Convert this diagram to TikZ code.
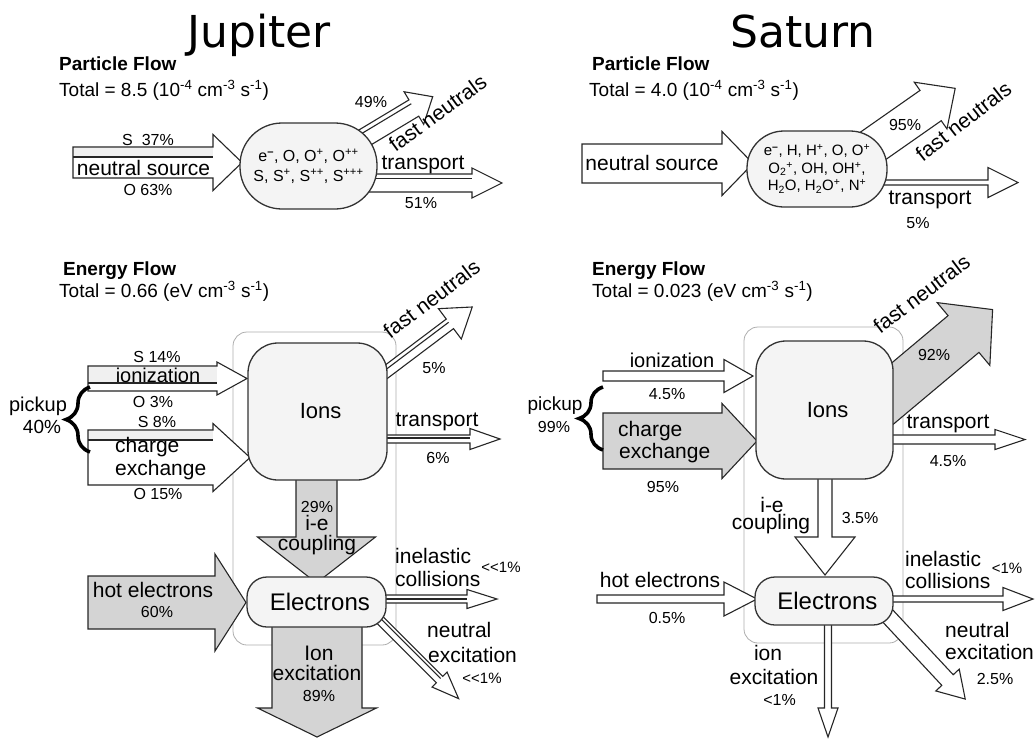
\documentclass[tikz,border=0pt]{standalone}
\usepackage{fontspec}
\setmainfont{Liberation Sans}
\newfontfamily\titlefont{DejaVu Sans}
\usetikzlibrary{decorations.pathreplacing}
\definecolor{flowgray}{gray}{0.83}
\definecolor{nodegray}{gray}{0.955}
\definecolor{bandgray}{gray}{0.94}
\definecolor{boxgray}{gray}{0.68}

% block arrow: [style]{start}{angle}{shaft length}{shaft half width}{head half width}{head length}
\newcommand{\flowarrow}[7][]{%
  \draw[flow,#1,shift={#2},rotate=#3] (0,-#5) -- (#4,-#5) -- (#4,-#6) -- ({#4+#7},0) -- (#4,#6) -- (#4,#5) -- (0,#5) -- cycle;}
% line along a block arrow: {start}{angle}{length}{offset}
\newcommand{\flowline}[4]{%
  \draw[flowedge,shift={#1},rotate=#2] (0,#4) -- (#3,#4);}

\begin{document}
\begin{tikzpicture}[x=1pt,y=-1pt]
\tikzstyle{flow}=[draw=black!85, line width=1.1pt, fill=white, line join=miter]
\tikzstyle{flowedge}=[draw=black!85, line width=1.1pt]
\tikzstyle{hot}=[fill=flowgray]
\tikzstyle{pool}=[draw=black!80, line width=1.3pt, fill=nodegray, inner sep=0pt, align=center]
\tikzstyle{lab}=[inner sep=0pt, anchor=base, font=\fontsize{21}{23}\selectfont]
\tikzstyle{labl}=[lab, anchor=base west]
\tikzstyle{pct}=[inner sep=0pt, anchor=base, font=\fontsize{16}{18}\selectfont]
\tikzstyle{small}=[inner sep=0pt, anchor=base, font=\fontsize{15}{17}\selectfont]
\tikzstyle{heading}=[inner sep=0pt, anchor=base west, font=\fontsize{19}{21}\selectfont\bfseries]
\tikzstyle{total}=[inner sep=0pt, anchor=base west, font=\fontsize{19}{21}\selectfont]
\tikzstyle{planet}=[inner sep=0pt, anchor=base, font=\titlefont\fontsize{44}{48}\selectfont]
\tikzstyle{pickbrace}=[decorate, decoration={brace, amplitude=24pt}, line width=3.6pt]
\useasboundingbox (0,0) rectangle (1035,739);

\node (jtitle) [planet] at (259,47) {Jupiter};
\node (stitle) [planet] at (803,47) {Saturn};

% Jupiter, particle flow
\flowarrow{(73,162.5)}{0}{140}{15.5}{28}{29}
\fill[bandgray] (73.6,147.6) rectangle (212.5,157);
\draw[flowedge] (73,157) -- (213,157);
\flowarrow{(360,183)}{0}{112}{9}{15}{30}
\flowline{(360,183)}{0}{112}{-4.5}
\flowarrow{(359,141)}{31}{64}{9.5}{19}{22}
\flowline{(359,141)}{31}{64}{-5}
\node (jpart) [pool, rounded corners=42pt, minimum width=137pt, minimum height=86pt,
  font=\fontsize{16}{20}\selectfont] at (308.5,166)
  {e\textsuperscript{\textbf{–}}, O, O\textsuperscript{+}, O\textsuperscript{++}\\
   S, S\textsuperscript{+}, S\textsuperscript{++}, S\textsuperscript{+++}};
\node (jpflow) [heading] at (59,70) {Particle Flow};
\node (jptotal) [total] at (59,96) {Total = 8.5 (10\textsuperscript{-4} cm\textsuperscript{-3} s\textsuperscript{-1})};
\node (jps) [pct] at (148,145) {S~~37\%};
\node (jpsrc) [lab] at (143.5,175) {neutral source};
\node (jpo) [pct] at (148,195) {O 63\%};
\node (jp49) [pct] at (371,107) {49\%};
\node (jpfast) [lab, rotate=36] at (442,119) {fast neutrals};
\node (jptrans) [lab] at (423,169) {transport};
\node (jp51) [pct] at (421,208) {51\%};

% Saturn, particle flow
\flowarrow{(582,163.5)}{0}{140}{19.5}{32}{31}
\flowarrow{(870,148)}{35}{74}{18.5}{28.5}{30}
\flowarrow{(870,182.5)}{0}{118}{2.5}{15}{30}
\node (spart) [pool, rounded corners=37pt, minimum width=140pt, minimum height=76pt,
  font=\fontsize{15}{17.5}\selectfont] at (817,169)
  {e\textsuperscript{\textbf{–}}, H, H\textsuperscript{+}, O, O\textsuperscript{+}\\
   O\textsubscript{2}\textsuperscript{+}, OH, OH\textsuperscript{+},\\
   H\textsubscript{2}O, H\textsubscript{2}O\textsuperscript{+}, N\textsuperscript{+}};
\node (spflow) [heading] at (592,70) {Particle Flow};
\node (sptotal) [total] at (589,96) {Total = 4.0 (10\textsuperscript{-4} cm\textsuperscript{-3} s\textsuperscript{-1})};
\node (spsrc) [lab] at (652,170) {neutral source};
\node (sp95) [pct] at (905,130) {95\%};
\node (spfast) [lab, rotate=38] at (968,127) {fast neutrals};
\node (sptrans) [lab] at (930,204) {transport};
\node (sp5) [pct] at (918,228) {5\%};

% Jupiter, energy flow
\draw[boxgray, line width=0.8pt, rounded corners=14pt] (233,332) rectangle (396,645);
\flowarrow{(88,378.5)}{0}{129}{12.5}{16.5}{30}
\fill[bandgray] (88.6,367.1) rectangle (216.5,383);
\draw[flowedge] (88,383) -- (217,383);
\flowarrow{(88,457.5)}{0}{125}{27.5}{34}{37}
\fill[bandgray] (88.6,430.6) rectangle (212.5,440);
\draw[flowedge] (88,440) -- (213,440);
\flowarrow{(378,378)}{37}{90}{6}{19}{28}
\flowline{(378,378)}{37}{90}{-2}
\flowarrow{(375,439)}{0}{95}{4}{10.5}{30}
\flowline{(375,439)}{0}{95}{-1}
\flowarrow[hot]{(316.5,470)}{-90}{67}{20.5}{59}{46}
\flowarrow[hot]{(88,602.5)}{0}{127}{26.5}{48.5}{31}
\flowarrow[hot]{(317,620)}{-90}{88}{45}{59.5}{29}
\flowarrow{(375,599)}{0}{92}{4}{9.5}{30}
\flowline{(375,599)}{0}{92}{0}
\flowarrow{(372,612)}{-45}{95.5}{4.5}{10.6}{27}
\flowline{(372,612)}{-45}{95.5}{-1.5}
\draw[pickbrace] (90,452) -- (90,387);
\node (jions) [pool, rounded corners=30pt, minimum width=139pt, minimum height=137pt,
  font=\fontsize{22}{24}\selectfont] at (317.5,411.5) {~Ions};
\node (jelec) [pool, rounded corners=20pt, minimum width=139pt, minimum height=50pt,
  font=\fontsize{24}{26}\selectfont] at (316.5,602) {~Electrons};
\node (jeflow) [heading] at (63,275) {Energy Flow};
\node (jetotal) [total] at (59,297) {Total = 0.66 (eV cm\textsuperscript{-3} s\textsuperscript{-1})};
\node (jes14) [pct] at (157,362) {S 14\%};
\node (jeion) [lab, font=\fontsize{20}{22}\selectfont] at (158,382) {ionization};
\node (jeo3) [pct] at (153,407) {O 3\%};
\node (jepick) [lab, font=\fontsize{20}{22}\selectfont] at (38,411) {pickup};
\node (je40) [lab, font=\fontsize{19}{21}\selectfont] at (42,433) {40\%};
\node (jes8) [pct] at (157,427) {S 8\%};
\node (jecxa) [labl] at (115,452) {charge};
\node (jecxb) [labl] at (115,475) {exchange};
\node (jeo15) [pct] at (158,499) {O 15\%};
\node (jefast) [lab, rotate=37] at (436,305) {fast neutrals};
\node (je5) [pct] at (434,373) {5\%};
\node (jetrans) [lab] at (437,426) {transport};
\node (je6) [pct] at (438,463) {6\%};
\node (je29) [pct] at (317,512) {29\%};
\node (jiea) [lab] at (317,530) {i-e};
\node (jieb) [lab] at (317,550) {coupling};
\node (jhot) [lab] at (153,597) {hot electrons};
\node (jhotp) [pct] at (157,617) {60\%};
\node (jionxa) [lab] at (319,660) {Ion};
\node (jionxb) [lab] at (317,680) {excitation};
\node (jionxp) [pct] at (319,701) {89\%};
\node (jinela) [labl] at (395,563) {inelastic};
\node (jinelb) [labl] at (395,586) {collisions};
\node (jinelp) [small] at (501,572) {{<}{<}1\%};
\node (jneua) [labl] at (427,637) {neutral};
\node (jneub) [labl] at (428,662) {excitation};
\node (jneup) [small] at (482,683) {{<}{<}1\%};

% Saturn, energy flow
\draw[boxgray, line width=0.8pt, rounded corners=14pt] (744,327) rectangle (903,643);
\flowarrow{(603,376)}{0}{121}{5}{16.5}{29}
\flowarrow[hot]{(603,441)}{0}{119}{28}{37.5}{35}
\flowarrow[hot]{(877.7,406)}{40}{112}{24}{41}{38}
\flowarrow{(880,439.5)}{0}{115}{4.5}{10}{30}
\flowarrow{(825,470)}{-90}{67}{7}{30}{38}
\flowarrow{(597,599)}{0}{127}{4}{17}{33}
\flowarrow{(880,599)}{0}{123}{3}{11.5}{30}
\flowarrow{(879.3,606.9)}{-47}{100}{7.8}{16}{26}
\flowarrow{(828,615)}{-90}{93}{3.5}{10}{29}
\draw[pickbrace] (603,450) -- (603,387);
\node (sions) [pool, rounded corners=30pt, minimum width=137pt, minimum height=138pt,
  font=\fontsize{22}{24}\selectfont] at (824.5,410) {~Ions};
\node (selec) [pool, rounded corners=20pt, minimum width=138pt, minimum height=48pt,
  font=\fontsize{24}{26}\selectfont] at (824,601) {~Electrons};
\node (seflow) [heading] at (592,275) {Energy Flow};
\node (setotal) [total] at (592,297) {Total = 0.023 (eV cm\textsuperscript{-3} s\textsuperscript{-1})};
\node (seion) [lab, font=\fontsize{20}{22}\selectfont] at (672,367) {ionization};
\node (seionp) [pct] at (667,399) {4.5\%};
\node (sepick) [lab, font=\fontsize{19}{21}\selectfont] at (555,410) {pickup};
\node (se99) [pct] at (554,432) {99\%};
\node (secxa) [labl] at (618,436) {charge};
\node (secxb) [labl] at (619,458) {exchange};
\node (se95) [pct] at (663,492) {95\%};
\node (sefast) [lab, rotate=37] at (926,300) {fast neutrals};
\node (se92) [pct] at (934,360) {92\%};
\node (setrans) [lab] at (948,428) {transport};
\node (setransp) [pct] at (948,466) {4.5\%};
\node (siea) [lab] at (772,512) {i-e};
\node (sieb) [lab] at (771,529) {coupling};
\node (siep) [pct] at (860,523) {3.5\%};
\node (shot) [lab] at (660,587) {hot electrons};
\node (shotp) [pct] at (667,623) {0.5\%};
\node (sinela) [labl] at (905,566) {inelastic};
\node (sinelb) [labl] at (905,588) {collisions};
\node (sinelp) [small] at (1007,573) {<1\%};
\node (sneua) [labl] at (945,637) {neutral};
\node (sneub) [labl] at (945,659) {excitation};
\node (sneup) [pct] at (995,684) {2.5\%};
\node (sionxa) [lab] at (768,660) {ion};
\node (sionxb) [lab] at (774,684) {excitation};
\node (sionxp) [pct] at (779.5,705) {<1\%};
\end{tikzpicture}
\end{document}
